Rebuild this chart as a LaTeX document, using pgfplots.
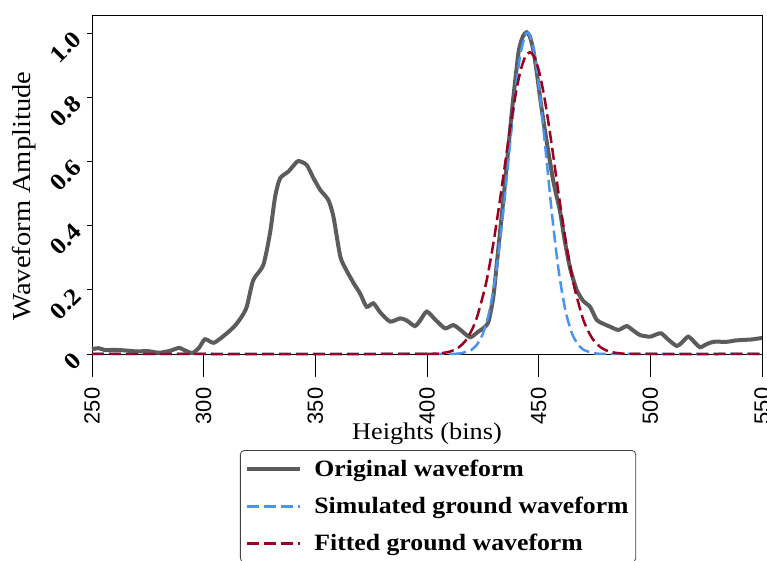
\documentclass[border=0pt]{standalone}
\usepackage{fontspec}
\setmainfont{Liberation Serif}[FakeStretch=1.1]
\setsansfont{Liberation Sans}
\usepackage{pgfplots}
\pgfplotsset{compat=1.18}
\definecolor{wgray}{RGB}{92,92,92}
\definecolor{wblue}{RGB}{74,148,240}
\definecolor{wred}{RGB}{155,0,32}
\begin{document}
\begin{tikzpicture}
\begin{axis}[
  scale only axis,
  width=670bp, height=339bp,
  xmin=250, xmax=550, ymin=0, ymax=1.056,
  clip=false,
  axis line style={black, line width=0.8bp},
  tick align=outside,
  tick style={black, line width=0.8bp},
  xtick={250,300,350,400,450,500,550},
  ytick={0,0.2,0.4,0.6,0.8,1.0},
  yticklabels={0,0.2,0.4,0.6,0.8,1.0},
  xtick style={/pgfplots/major tick length=23bp},
  ytick style={/pgfplots/major tick length=5bp},
  xtick pos=bottom, ytick pos=left,
  xticklabel shift=26bp,
  yticklabel shift=8bp,
  /pgf/number format/assume math mode=true,
  font=\fontsize{24}{28}\selectfont,
  xticklabel style={rotate=90, anchor=east, font=\sffamily\fontsize{22}{26}\selectfont},
  yticklabel style={rotate=45, anchor=east, font=\bfseries\fontsize{24}{28}\selectfont},
  xlabel={Heights (bins)},
  ylabel={Waveform Amplitude},
  xlabel style={at={(axis description cs:0.5,-0.236)}, anchor=center, font=\fontsize{24}{28}\selectfont},
  ylabel style={at={(axis description cs:-0.1015,0.466)}, anchor=center, font=\fontsize{26}{30}\selectfont},
  legend cell align=left,
  legend style={at={(axis description cs:0.2209,-0.2832)}, anchor=north west,
    draw=black!75, line width=0.8bp, rounded corners=4bp,
    font=\bfseries\fontsize{23.5}{27}\selectfont,
    row sep=15bp, column sep=10bp, inner xsep=5bp, inner ysep=8bp},
  legend image code/.code={\draw[#1] (0bp,0bp) -- (53bp,0bp);},
]
\addplot[wgray, line width=4bp, smooth, tension=0.4] coordinates {
(250,0.015) (253,0.018) (256,0.012) (260,0.013) (265,0.011) (270,0.008)
(275,0.009) (280,0.004) (285,0.010) (289,0.019) (292,0.010) (295,0.003)
(298,0.020) (300.6,0.046) (304.6,0.035) (310.3,0.064) (314,0.088) (317,0.116)
(319.3,0.147) (322.2,0.23) (326.7,0.277) (329.7,0.376) (332,0.49) (334.2,0.547)
(337.9,0.568) (340,0.585) (342.4,0.601) (346.1,0.589) (349,0.55) (352.2,0.511)
(355.8,0.48) (358.1,0.428) (361.2,0.303) (364,0.26) (367.2,0.22) (370,0.189)
(373,0.147) (376,0.158) (379,0.13) (383.5,0.101) (388,0.111) (391,0.104)
(394.6,0.087) (397,0.105) (399.9,0.132) (404,0.105) (408.1,0.08) (411.8,0.09)
(415,0.075) (419.3,0.052) (423,0.07) (425.2,0.08) (427.5,0.10) (429.7,0.178)
(431.2,0.277) (433,0.40) (435,0.537) (438,0.755) (441,0.94) (443,0.99)
(444.6,1.002) (446,0.99) (447.5,0.95) (449.1,0.88) (451,0.78) (453.6,0.661)
(456.6,0.537) (459.6,0.443) (461.5,0.36) (464,0.27) (467,0.2) (470,0.165)
(473,0.147) (476,0.106) (479,0.094) (482,0.085) (485.7,0.075) (489.4,0.087)
(492,0.075) (495.4,0.059) (499.9,0.054) (503,0.062) (505,0.064) (508,0.045)
(511.8,0.025) (514,0.035) (517,0.054) (520,0.035) (522.3,0.021) (525,0.03)
(528.3,0.038) (534.2,0.038) (538,0.042) (541.7,0.044) (545,0.045) (549.1,0.049)
(550,0.05)
};
\addlegendentry{Original waveform}
\addplot[wblue, line width=2.5bp, dash pattern=on 12bp off 5bp, smooth] coordinates {
(250,0) (400,0) (410,0.0002) (415,0.002) (420,0.0132) (422,0.0257) (425,0.0628)
(428,0.1353) (431,0.2576) (434,0.433) (437,0.642) (440,0.841) (442,0.940)
(444,0.993) (445,1.0) (446,0.993) (448,0.940) (450,0.841) (453,0.642)
(456,0.433) (459,0.2576) (462,0.1353) (465,0.0628) (468,0.0257) (470,0.0132)
(475,0.002) (480,0.0002) (490,0) (550,0)
};
\addlegendentry{Simulated ground waveform}
\addplot[wred, line width=2.5bp, dash pattern=on 12bp off 5bp, smooth] coordinates {
(250,0) (395,0) (400,0.0003) (405,0.0016) (410,0.0070) (414,0.0196) (418,0.0485)
(422,0.1065) (426,0.2072) (428,0.276) (430,0.357) (432,0.448) (434,0.545)
(436,0.644) (438,0.738) (440,0.821) (442,0.885) (444,0.926) (446,0.94)
(448,0.926) (450,0.885) (452,0.821) (454,0.738) (456,0.644) (458,0.545)
(460,0.448) (462,0.357) (464,0.276) (466,0.2072) (470,0.1065) (474,0.0485)
(478,0.0196) (482,0.0070) (487,0.0016) (492,0.0003) (497,0) (550,0)
};
\addlegendentry{Fitted ground waveform}
\coordinate (bbl) at (rel axis cs:-0.1373,-0.6106);
\coordinate (btr) at (rel axis cs:1.00746,1.0442);
\end{axis}
\pgfresetboundingbox
\path[use as bounding box] (bbl) rectangle (btr);
\end{tikzpicture}
\end{document}
